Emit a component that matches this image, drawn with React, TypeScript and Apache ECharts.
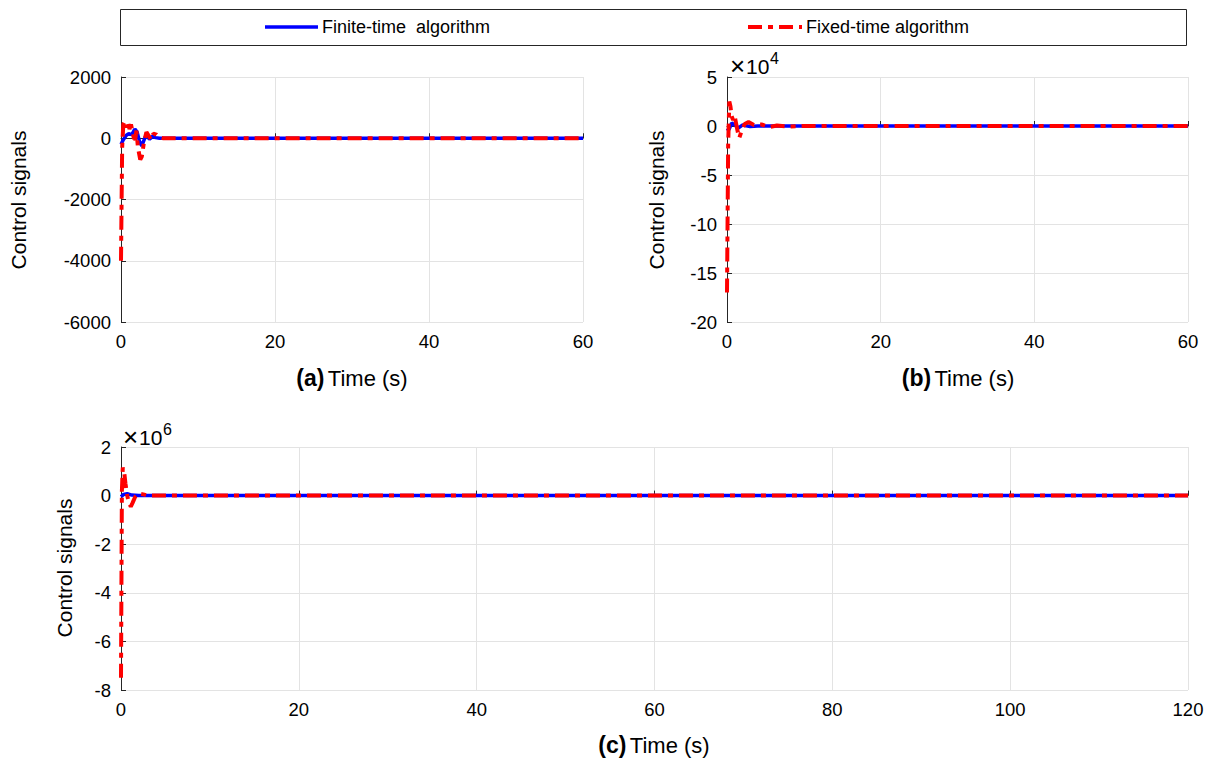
import React, { useEffect, useRef } from "react";
import * as echarts from "echarts";

// ---- data ----
// Panel (a): control signals, raw units
const tFiniteA = [0, 0.3, 0.7, 1.0, 1.4, 1.8, 2.1, 2.4, 2.7, 3.0, 3.3, 3.7, 4.1, 4.5, 5.0, 6, 60];
const finiteA = [-200, -50, 100, 150, 120, 300, 200, -100, -250, -50, 120, -30, 60, 20, 0, 0, 0];
const tFixedA = [0, 0.15, 0.3, 0.5, 0.7, 0.9, 1.1, 1.3, 1.5, 1.8, 2.0, 2.2, 2.5, 2.7, 3.0, 3.3, 3.6, 3.9, 4.2, 4.6, 5.0, 5.5, 8, 60];
const fixedA = [-4000, -300, 450, 550, 350, 550, 300, 450, 200, -150, 250, -300, -700, -600, -100, 200, 80, -50, 150, 120, 30, 0, 0, 0];

// Panel (b): control signals, ×10^4
const tFiniteB = [0, 0.3, 0.6, 1.0, 1.5, 2.0, 3.0, 4, 60];
const finiteB = [-0.5, -0.3, 0.3, 0.1, -0.2, 0.1, -0.05, 0, 0];
const tFixedB = [0, 0.15, 0.3, 0.45, 0.6, 0.8, 1.0, 1.2, 1.4, 1.6, 1.9, 2.3, 2.8, 3.5, 4.5, 5.5, 6.5, 8, 10, 60];
const fixedB = [-17, -2, 2.5, 2.0, 1.0, 0.6, 1.0, 0.2, -0.6, -1.2, -0.5, 0.2, 0.4, 0.1, 0.15, -0.1, 0.05, -0.05, 0, 0];

// Panel (c): control signals, ×10^6
const tFiniteC = [0, 0.3, 0.7, 1.2, 2, 120];
const finiteC = [-0.05, 0.05, 0.08, 0.02, 0, 0];
const tFixedC = [0, 0.1, 0.2, 0.35, 0.5, 0.7, 0.9, 1.1, 1.3, 1.6, 2.0, 2.5, 3.0, 120];
const fixedC = [-7.5, 0.2, 1.15, 1.0, 0.5, 0.0, -0.3, -0.45, -0.3, -0.05, 0.08, 0.05, 0, 0];

// axes
const xMaxAB = 60;
const xMaxC = 120;
const xInterval = 20;
const yA = { min: -6000, max: 2000, interval: 2000 };
const yB = { min: -20, max: 5, interval: 5 };
const yC = { min: -8, max: 2, interval: 2 };

const seriesNames = ["Finite-time  algorithm", "Fixed-time algorithm"];
const yLabel = "Control signals";
const xLabelText = "Time (s)";

const FONT = "'Liberation Sans', Arial, Helvetica, sans-serif";
const BLUE = "#0000ff";
const RED = "#ff0000";
const DASHDOT = [14, 6, 5, 6];

const zip = (t: number[], v: number[]) => t.map((x, i) => [x, v[i]]);

function axisX(gridIndex: number, max: number) {
  return {
    type: "value",
    gridIndex,
    min: 0,
    max,
    interval: xInterval,
    axisLine: { show: true, lineStyle: { color: "#262626", width: 1 } },
    axisTick: { show: true, inside: true, length: 5, lineStyle: { color: "#262626" } },
    axisLabel: { color: "#000", fontSize: 18.5, fontFamily: FONT, margin: 10, formatter: (v: number) => String(v) },
    splitLine: { show: true, lineStyle: { color: "#e3e3e3", width: 1 } },
  };
}
function axisY(gridIndex: number, r: { min: number; max: number; interval: number }) {
  return {
    type: "value",
    gridIndex,
    min: r.min,
    max: r.max,
    interval: r.interval,
    axisLine: { show: true, onZero: false, lineStyle: { color: "#262626", width: 1 } },
    axisTick: { show: true, inside: true, length: 5, lineStyle: { color: "#262626" } },
    axisLabel: { color: "#000", fontSize: 18.5, fontFamily: FONT, margin: 10, formatter: (v: number) => String(v) },
    splitLine: { show: true, lineStyle: { color: "#e3e3e3", width: 1 } },
  };
}
function finiteSeries(i: number, data: number[][]) {
  return {
    type: "line",
    name: seriesNames[0],
    xAxisIndex: i,
    yAxisIndex: i,
    data,
    showSymbol: false,
    symbol: "none",
    lineStyle: { color: BLUE, width: 3.5 },
    z: 2,
  };
}
function fixedSeries(i: number, data: number[][]) {
  return {
    type: "line",
    name: seriesNames[1],
    xAxisIndex: i,
    yAxisIndex: i,
    data,
    showSymbol: false,
    symbol: "none",
    lineStyle: { color: RED, width: 4, type: DASHDOT, cap: "butt" },
    z: 3,
  };
}

function xLabel(tag: string, cx: number, cy: number) {
  return {
    type: "text",
    x: cx,
    y: cy,
    style: {
      text: `{b|${tag}} {n|${xLabelText}}`,
      align: "center",
      verticalAlign: "middle",
      fontFamily: FONT,
      rich: {
        b: { fontSize: 23, fontWeight: "bold", fontFamily: FONT, fill: "#000" },
        n: { fontSize: 22, fontFamily: FONT, fill: "#000" },
      },
    },
  };
}
function yLab(cx: number, cy: number) {
  return {
    type: "text",
    x: cx,
    y: cy,
    rotation: Math.PI / 2,
    style: { text: yLabel, align: "center", verticalAlign: "middle", fontSize: 21, fontFamily: FONT, fill: "#000" },
  };
}
function expLabel(x: number, y: number, exp: string) {
  return {
    type: "group",
    children: [
      { type: "text", x, y, style: { text: "×", fontSize: 26, fontFamily: FONT, fill: "#000", verticalAlign: "middle" } },
      { type: "text", x: x + 16, y, style: { text: "10", fontSize: 21, fontFamily: FONT, fill: "#000", verticalAlign: "middle" } },
      { type: "text", x: x + 40, y: y - 8, style: { text: exp, fontSize: 16, fontFamily: FONT, fill: "#000", verticalAlign: "middle" } },
    ],
  };
}

export default function App() {
  const ref = useRef<HTMLDivElement>(null);
  useEffect(() => {
    document.body.style.margin = "0";
    if (!ref.current) return;
    const chart = echarts.init(ref.current, undefined, { renderer: "svg" });
    chart.setOption({
      animation: false,
      backgroundColor: "#fff",
      grid: [
        { left: 121, top: 77, width: 462, height: 245 },
        { left: 727, top: 77, width: 461, height: 245 },
        { left: 121, top: 447, width: 1067, height: 243 },
      ],
      xAxis: [axisX(0, xMaxAB), axisX(1, xMaxAB), axisX(2, xMaxC)],
      yAxis: [axisY(0, yA), axisY(1, yB), axisY(2, yC)],
      series: [
        finiteSeries(0, zip(tFiniteA, finiteA)),
        fixedSeries(0, zip(tFixedA, fixedA)),
        finiteSeries(1, zip(tFiniteB, finiteB)),
        fixedSeries(1, zip(tFixedB, fixedB)),
        finiteSeries(2, zip(tFiniteC, finiteC)),
        fixedSeries(2, zip(tFixedC, fixedC)),
      ],
      graphic: [
        // legend box
        { type: "rect", shape: { x: 120.5, y: 9.5, width: 1066, height: 36 }, style: { fill: "#fff", stroke: "#262626", lineWidth: 1 } },
        { type: "line", shape: { x1: 265, y1: 27, x2: 318, y2: 27 }, style: { stroke: BLUE, lineWidth: 3.5 } },
        { type: "text", x: 322, y: 27, style: { text: seriesNames[0], fontSize: 18, fontFamily: FONT, fill: "#000", verticalAlign: "middle" } },
        { type: "line", shape: { x1: 748, y1: 27, x2: 802, y2: 27 }, style: { stroke: RED, lineWidth: 4, lineDash: DASHDOT } },
        { type: "text", x: 806, y: 27, style: { text: seriesNames[1], fontSize: 18, fontFamily: FONT, fill: "#000", verticalAlign: "middle" } },
        // axis labels
        yLab(18, 200),
        yLab(656, 200),
        yLab(64, 568),
        xLabel("(a)", 352, 378),
        xLabel("(b)", 958, 378),
        xLabel("(c)", 654, 745),
        expLabel(730, 66, "4"),
        expLabel(123, 437, "6"),
      ],
    });
    return () => chart.dispose();
  }, []);
  return <div ref={ref} style={{ width: 1211, height: 761 }} />;
}
